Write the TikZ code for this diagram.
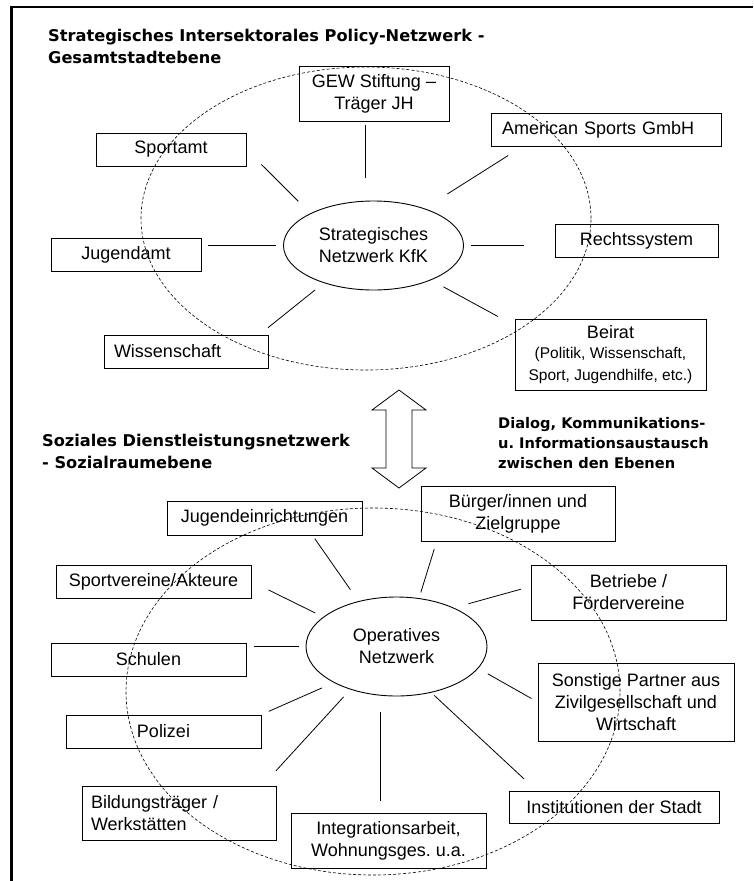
\documentclass[tikz,border=0pt]{standalone}
\usepackage{fontspec}
\setmainfont{Liberation Sans}
\newfontfamily\headfont{DejaVu Sans}
\usetikzlibrary{shapes.geometric}
\frenchspacing

\begin{document}
\begin{tikzpicture}[x=1pt, y=-1pt, font=\fontsize{18}{22}\selectfont,
    box/.style={draw, line width=0.8pt, align=center, minimum height=33pt, inner sep=0pt},
    hub/.style={draw, ellipse, line width=0.9pt, align=center, inner sep=0pt},
    spoke/.style={draw, line width=0.8pt},
    ring/.style={line width=0.6pt, dash pattern=on 3pt off 2pt},
    head/.style={font=\headfont\bfseries\fontsize{16.2}{22}\selectfont, align=left, anchor=base west, inner sep=0pt}]
	\useasboundingbox (0,0) rectangle (753,881);
	\draw[line width=2.2pt] (11.5,881) -- (11.5,7) -- (753,7);

	% upper level
	\node[head] (ttop) at (48,63) {Strategisches Intersektorales Policy-Netzwerk -\\Gesamtstadtebene};
	\draw[ring] (366,218.5) ellipse [x radius=225pt, y radius=151.5pt];
	\node[hub, minimum width=180pt, minimum height=89pt] (sk) at (373.5,245.5) {Strategisches\\Netzwerk KfK};
	\node[box, minimum width=150pt, minimum height=55pt] (gew)    at (374,93.5)    {GEW Stiftung –\\Träger JH};
	\node[box, text width=208pt, inner xsep=11pt, align=left] (am) at (606,129.5) {American Sports GmbH};
	\node[box, minimum width=150pt] (sport)  at (171,149.5)   {Sportamt};
	\node[box, minimum width=150pt] (jug)    at (126,254.5)   {Jugendamt};
	\node[box, minimum width=163pt] (recht)  at (636.5,240.5) {Rechtssystem};
	\node[box, text width=144pt, inner xsep=10pt, align=left] (wiss) at (186,351.5) {Wissenschaft};
	\node[box, minimum width=191pt, minimum height=71pt] (beirat) at (610.5,354.5)
		{Beirat\\[-2pt]\fontsize{15.5}{20}\selectfont(Politik, Wissenschaft,\\\fontsize{15.5}{20}\selectfont Sport, Jugendhilfe, etc.)};

	\path[spoke]
		(sk.100)  edge[shorten <=23pt, shorten >=4pt]  (sk.100 |- gew.south)
		(sk.36)   edge[shorten <=27pt, shorten >=17pt] ([xshift=32pt]am.south west)
		(sk.153)  edge[shorten <=17pt, shorten >=21pt] (sport.east)
		(sk.west) edge[shorten <=7pt, shorten >=7pt]   (sk.west -| jug.east)
		(sk.east) edge[shorten <=7pt, shorten >=31pt]  (sk.east -| recht.west)
		(sk.217)  edge[shorten <=11pt, shorten >=11pt] ([xshift=-9pt]wiss.north east)
		(sk.329)  edge[shorten <=14pt, shorten >=19pt] ([yshift=-7pt]beirat.north west);

	% exchange between the levels
	\draw[line width=0.8pt] (399,390) -- (426,410) -- (412,410) -- (412,468) -- (426,468) -- (399,488)
		-- (372,468) -- (386,468) -- (386,410) -- (372,410) -- cycle;
	\node[head] (tlow) at (42,468) {Soziales Dienstleistungsnetzwerk\\- Sozialraumebene};
	\node[head, font=\headfont\bfseries\fontsize{14.6}{20}\selectfont] (tdia) at (498,468)
		{Dialog, Kommunikations-\\u. Informationsaustausch\\zwischen den Ebenen};

	% lower level
	\draw[ring] (373,691.5) ellipse [x radius=247pt, y radius=183.5pt];
	\node[hub, minimum width=181pt, minimum height=99pt] (op) at (396.5,646.5) {Operatives\\Netzwerk};
	\node[box, minimum width=195pt, minimum height=34pt] (jugein) at (264.5,518) {Jugendeinrichtungen};
	\node[box, minimum width=194pt, minimum height=55pt] (buerger) at (518,513.5) {Bürger/innen und\\Zielgruppe};
	\node[box, minimum width=195pt] (sv)     at (153.5,581.5) {Sportvereine/Akteure};
	\node[box, minimum width=195pt, minimum height=55pt] (betr) at (628.5,592.5) {Betriebe /\\Fördervereine};
	\node[box, minimum width=195pt] (schul)  at (148.5,659.5) {Schulen};
	\node[box, minimum width=196pt, minimum height=78pt] (sonst) at (636,702)
		{Sonstige Partner aus\\Zivilgesellschaft und\\Wirtschaft};
	\node[box, minimum width=195pt] (pol)    at (163.5,731.5) {Polizei};
	\node[box, text width=176pt, inner xsep=9pt, align=left, minimum height=54pt] (bild) at (179,813)
		{Bildungsträger /\\Werkstätten};
	\node[box, minimum width=195pt, minimum height=55pt] (integ) at (388.5,840.5) {Integrationsarbeit,\\Wohnungsges. u.a.};
	\node[box, minimum width=210pt, minimum height=32pt] (inst) at (614,807) {Institutionen der Stadt};

	\path[spoke]
		(op.130)  edge[shorten <=14pt, shorten >=4pt]  ([xshift=48pt]jugein.south)
		(op.65)   edge[shorten <=6pt, shorten >=8pt]   ([xshift=16pt]buerger.south west)
		(op.158)  edge[shorten <=9pt, shorten >=19pt]  (sv.east)
		(op.34)   edge[shorten <=15pt, shorten >=10pt] ([yshift=6pt]betr.west)
		(op.west) edge[shorten <=7pt, shorten >=8pt]   (op.west -| schul.east)
		(op.345)  edge[shorten <=11pt, shorten >=7pt]  (sonst.west)
		(op.210)  edge[shorten <=13pt, shorten >=8pt]  (pol.north east)
		(op.223)  edge[shorten <=10pt, shorten >=20pt] ([xshift=-14pt]bild.north east)
		(op.252)  edge[shorten <=16pt, shorten >=12pt] (op.252 |- integ.north)
		(op.307)  edge[shorten <=4pt, shorten >=17pt]  ([xshift=28pt]inst.north west);
\end{tikzpicture}
\end{document}
